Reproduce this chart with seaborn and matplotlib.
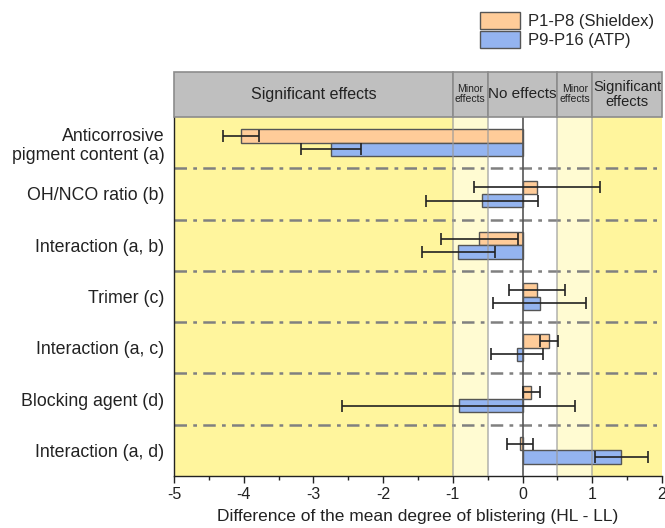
import matplotlib
matplotlib.use("Agg")
import matplotlib.pyplot as plt
from matplotlib.patches import Rectangle
from matplotlib.ticker import MultipleLocator
import seaborn as sns
import pandas as pd

# Factors and their effect estimates
factors = [
    "Anticorrosive\npigment content (a)",
    "OH/NCO ratio (b)",
    "Interaction (a, b)",
    "Trimer (c)",
    "Interaction (a, c)",
    "Blocking agent (d)",
    "Interaction (a, d)",
]
series = ["P1-P8 (Shieldex)", "P9-P16 (ATP)"]
shieldex_mean = [-4.04, 0.21, -0.62, 0.21, 0.375, 0.125, -0.04]
shieldex_err = [0.26, 0.90, 0.55, 0.40, 0.13, 0.12, 0.19]
atp_mean = [-2.75, -0.58, -0.92, 0.245, -0.08, -0.915, 1.415]
atp_err = [0.43, 0.80, 0.52, 0.67, 0.38, 1.67, 0.38]

# Effect-size zones shown in the header
zone_edges = [-5, -1, -0.5, 0.5, 1, 2]
zone_labels = ["Significant effects", "Minor\neffects", "No effects",
               "Minor\neffects", "Significant\neffects"]
zone_sizes = [11.5, 7.5, 11, 7.5, 10.5]
zone_colors = ["#FFF59D", "#FFFBD2", "#FFFFFF", "#FFFBD2", "#FFF59D"]

sns.set_theme(style="white")
plt.rcParams["font.family"] = ["Liberation Sans", "DejaVu Sans"]
plt.rcParams["axes.unicode_minus"] = False

df = pd.DataFrame({
    "factor": factors * 2,
    "value": shieldex_mean + atp_mean,
    "series": [series[0]] * len(factors) + [series[1]] * len(factors),
})
errors = {series[0]: shieldex_err, series[1]: atp_err}
means = {series[0]: shieldex_mean, series[1]: atp_mean}

fig = plt.figure(figsize=(6.65, 5.28), dpi=100)
left, width = 174 / 665, 488 / 665
bottom, top = 1 - 476 / 528, 1 - 117 / 528
ax = fig.add_axes([left, bottom, width, top - bottom])
hax = fig.add_axes([left, top, width, 45 / 528])

# Background zones
for (x0, x1), c in zip(zip(zone_edges[:-1], zone_edges[1:]), zone_colors):
    ax.axvspan(x0, x1, color=c, zorder=0, lw=0)

palette = {series[0]: "#FFCC99", series[1]: "#94B4F0"}
sns.barplot(data=df, x="value", y="factor", hue="series", order=factors,
            hue_order=series, palette=palette, orient="h", width=0.52,
            edgecolor="#555555", linewidth=1.0, saturation=1, ax=ax,
            legend=True, zorder=2)

# Error bars at the bar centres
for cont, name in zip(ax.containers, series):
    ys = [p.get_y() + p.get_height() / 2 for p in cont.patches]
    ax.errorbar(means[name], ys, xerr=errors[name], fmt="none",
                ecolor="#222222", elinewidth=1.2, capsize=4, capthick=1.2,
                zorder=4)

# Zone boundaries and zero line
for xv in [-1, -0.5, 0.5, 1]:
    ax.axvline(xv, color="#9A9A9A", lw=1.2, alpha=0.7, zorder=3)
ax.axvline(0, color="#555555", lw=1.2, zorder=3)

# Separators between factors
for yv in range(len(factors) - 1):
    ax.axhline(yv + 0.5, color="#808080", lw=1.8,
               linestyle=(0, (5, 2.5, 1.5, 2.5)), zorder=1.5)

ax.set_xlim(-5, 2)
ax.set_ylim(len(factors) - 0.5, -0.5)
ax.xaxis.set_major_locator(MultipleLocator(1))
ax.xaxis.set_minor_locator(MultipleLocator(0.5))
ax.tick_params(axis="x", which="major", direction="out", length=5,
               width=1, color="#222222", labelsize=11.5, pad=3, bottom=True,
               labelcolor="#222222")
ax.tick_params(axis="x", which="minor", direction="out", length=3,
               width=1, color="#222222", bottom=True)
ax.tick_params(axis="y", length=0, labelsize=12.8, pad=7,
               labelcolor="#222222")
for lab in ax.get_yticklabels():
    lab.set_horizontalalignment("right")
ax.set_ylabel("")
ax.set_xlabel("Difference of the mean degree of blistering (HL - LL)",
              fontsize=12.5, labelpad=5, color="#222222")
for s in ["top", "right"]:
    ax.spines[s].set_visible(False)
for s in ["left", "bottom"]:
    ax.spines[s].set_color("#222222")
    ax.spines[s].set_linewidth(1)

# Legend
handles, labels = ax.get_legend_handles_labels()
ax.get_legend().remove()
fig.legend(handles, labels, loc="upper left",
           bbox_to_anchor=(480 / 665, 1 - 12 / 528), frameon=False,
           fontsize=12, handlelength=2.4, handleheight=1.15,
           labelspacing=0.15, handletextpad=0.45, borderpad=0,
           borderaxespad=0)

# Header with zone names
hax.set_xlim(-5, 2)
hax.set_ylim(0, 1)
hax.axis("off")
for (x0, x1), txt, fs in zip(zip(zone_edges[:-1], zone_edges[1:]),
                             zone_labels, zone_sizes):
    hax.add_patch(Rectangle((x0, 0), x1 - x0, 1, facecolor="#BFBFBF",
                            edgecolor="#8C8C8C", lw=1.2, clip_on=False))
    hax.text((x0 + x1) / 2, 0.5, txt, ha="center", va="center",
             fontsize=fs, color="#222222", linespacing=1.0)

fig.savefig("out.png", dpi=100)
